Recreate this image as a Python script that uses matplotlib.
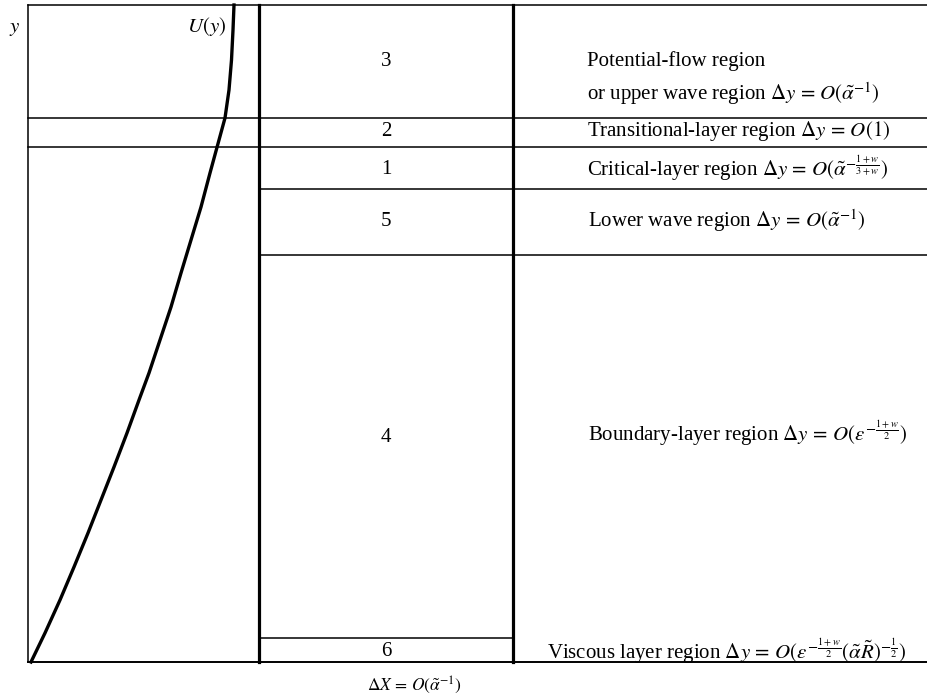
import numpy as np
import matplotlib.pyplot as plt

plt.rcParams['font.family'] = 'Liberation Serif'
plt.rcParams['mathtext.fontset'] = 'stix'

# velocity profile U(y), horizontal position vs height (y grows downward here)
u_height = [662, 633, 600, 567, 533, 500, 467, 433, 400, 373, 340, 307, 273,
            240, 207, 173, 140, 118, 90, 60, 30, 5]
u_value = [31, 45, 60, 74, 88, 101, 114, 127, 139, 149, 160, 171, 181,
           191, 201, 210, 219, 225, 229, 231.5, 233, 234]

# layer boundaries, top to bottom
layer_edges = [5, 118, 147, 189, 255, 638, 662]
region_numbers = ["3", "2", "1", "5", "4", "6"]
region_text = [
    "Potential-flow region\nor upper wave region $\\Delta y\\,=\\,O(\\tilde{\\alpha}^{-1})$",
    "Transitional-layer region $\\Delta y\\,=\\,O(1)$",
    "Critical-layer region $\\Delta y\\,=\\,O(\\tilde{\\alpha}^{-\\frac{1+w}{3+w}})$",
    "Lower wave region $\\Delta y\\,=\\,O(\\tilde{\\alpha}^{-1})$",
    "Boundary-layer region $\\Delta y\\,=\\,O(\\epsilon^{-\\frac{1+w}{2}})$",
    "Viscous layer region $\\Delta y\\,=\\,O(\\epsilon^{-\\frac{1+w}{2}}(\\tilde{\\alpha}\\tilde{R})^{-\\frac{1}{2}})$",
]
text_x = [587, 587, 587, 588, 588, 547]
text_y = [79, 131, 168, 221, 433, 651]
number_y = [62, 132, 170, 222, 437, 652]

x_left, x_mid1, x_mid2, x_right = 28, 259, 513, 927

fig = plt.figure(figsize=(9.27, 6.96), dpi=100)
ax = fig.add_axes([0, 0, 1, 1])
ax.set_xlim(0, 927)
ax.set_ylim(696, 0)
ax.axis('off')

thin = 1.1
thick = 2.3

# outer frame lines
ax.plot([x_left, x_right], [layer_edges[0]] * 2, color='black', lw=thin)
ax.plot([x_left, x_right], [layer_edges[-1]] * 2, color='black', lw=1.4)
ax.plot([x_left, x_left], [layer_edges[0], layer_edges[-1]], color='black', lw=thin)
ax.plot([x_mid1, x_mid1], [layer_edges[0], layer_edges[-1]], color='black', lw=thick)
ax.plot([x_mid2, x_mid2], [layer_edges[0], layer_edges[-1]], color='black', lw=thick)

# inner layer boundaries
ax.plot([x_left, x_right], [layer_edges[1]] * 2, color='black', lw=thin)
ax.plot([x_left, x_right], [layer_edges[2]] * 2, color='black', lw=thin)
ax.plot([x_mid1, x_right], [layer_edges[3]] * 2, color='black', lw=thin)
ax.plot([x_mid1, x_right], [layer_edges[4]] * 2, color='black', lw=thin)
ax.plot([x_mid1, x_mid2], [layer_edges[5]] * 2, color='black', lw=thin)

# U(y) profile
ax.plot(u_value, u_height, color='black', lw=2.4, solid_joinstyle='round')

fs = 15
for num, ny, txt, tx, ty in zip(region_numbers, number_y, region_text, text_x, text_y):
    ax.text((x_mid1 + x_mid2) / 2, ny, num, ha='center', va='center', fontsize=fs)
    ax.text(tx, ty, txt, ha='left', va='center', fontsize=fs, linespacing=1.5)

ax.text(15, 28, "$y$", ha='center', va='center', fontsize=fs)
ax.text(226, 26, "$U(y)$", ha='right', va='center', fontsize=fs)
ax.text(414, 685, "$\\Delta X\\,=\\,O(\\tilde{\\alpha}^{-1})$",
        ha='center', va='center', fontsize=12.5)

fig.savefig('out.png', dpi=100)
